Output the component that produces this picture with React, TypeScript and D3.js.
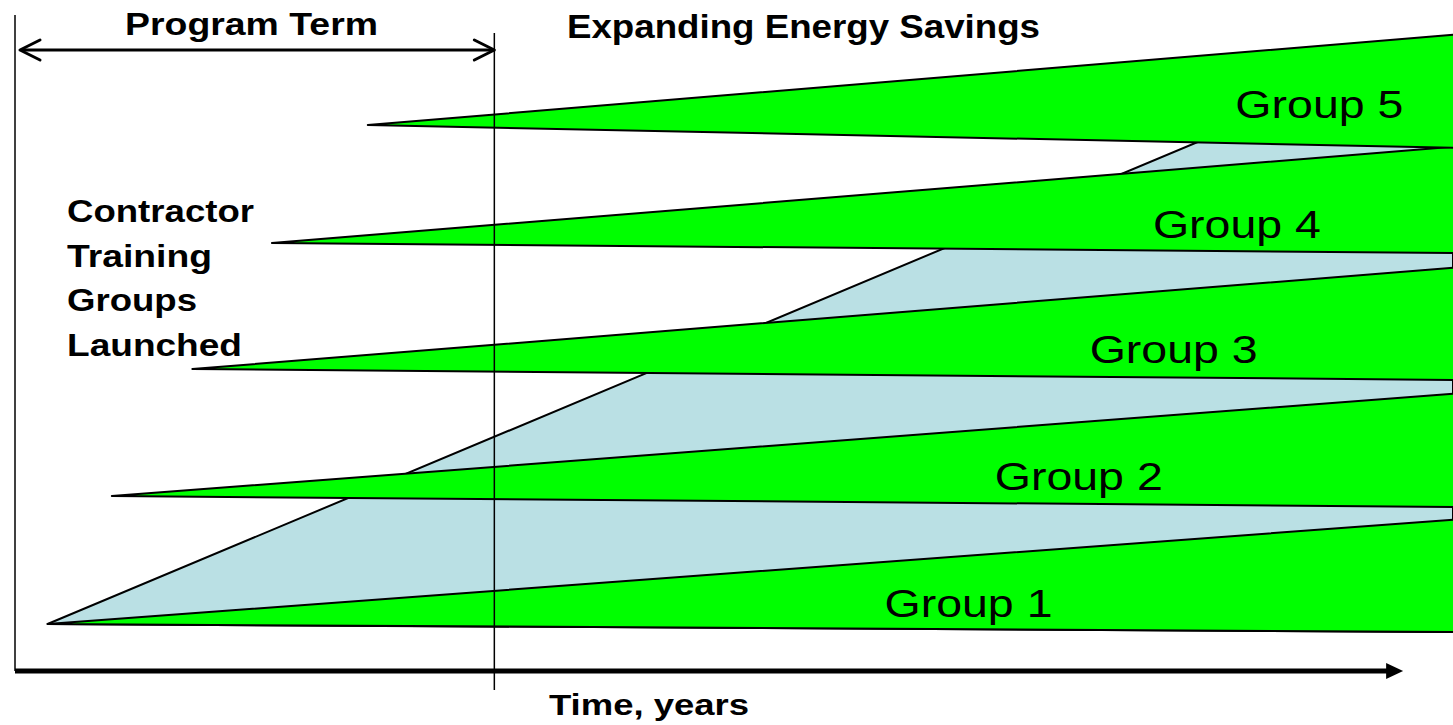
import React from "react";
import * as d3 from "d3";

// ---- data (schematic: time in years, savings level in arbitrary units) ----
const groupNames = ["Group 1", "Group 2", "Group 3", "Group 4", "Group 5"];
const launchYear = [0.34, 1.01, 1.85, 2.68, 3.68];
const launchLevel = [8, 136, 263, 389, 507];
const endUpperLevel = [112, 238, 364, 485, 597];
const endLowerLevel = [0, 125, 252, 379, 484];
const endYear = 15;
const programTermYears = 5;
const axisEndYear = 14.48;
// cumulative savings wedge
const totalStart = { year: 0.34, level: 8 };
const totalEndUpper = 597;
const totalEndLower = 0;

// label layout (year of left edge, level of baseline)
const labelYear = [9.07, 10.22, 11.21, 11.87, 12.73];
const labelLevel = [15, 142, 269, 394, 514];

const contractorLines = ["Contractor", "Training", "Groups", "Launched"];
const contractorWidths = [187, 145, 130, 175];

const W = 1453;
const H = 725;
const FONT = "'Liberation Sans', Arial, Helvetica, sans-serif";

export default function App() {
  const x = d3.scaleLinear().domain([0, endYear]).range([15, 1453]);
  const y = d3.scaleLinear().domain([0, 600]).range([632, 32]);

  const line = d3
    .line<[number, number]>()
    .x((d) => x(d[0]))
    .y((d) => y(d[1]));

  const totalPath =
    line([
      [totalStart.year, totalStart.level],
      [endYear, totalEndUpper],
      [endYear, totalEndLower],
    ]) + "Z";

  const groupPaths = groupNames.map(
    (_, i) =>
      line([
        [launchYear[i], launchLevel[i]],
        [endYear + 0.1, endUpperLevel[i] + 1],
        [endYear + 0.1, endLowerLevel[i]],
      ]) + "Z"
  );

  const x0 = x(0);
  const xTerm = x(programTermYears);
  const axisY = 671;
  const xAxisEnd = x(axisEndYear);

  return (
    <svg
      width={W}
      height={H}
      style={{ position: "absolute", left: 0, top: 0, background: "#fff" }}
      fontFamily={FONT}
    >
      {/* cumulative savings wedge */}
      <path d={totalPath} fill="#bae0e4" stroke="#000" strokeWidth={2} strokeLinejoin="round" />

      {/* group wedges */}
      {groupPaths.map((d, i) => (
        <path key={i} d={d} fill="#00ff00" stroke="#000" strokeWidth={2} strokeLinejoin="round" />
      ))}

      {/* vertical reference lines */}
      <line x1={x0} x2={x0} y1={15} y2={axisY} stroke="#000" strokeWidth={1.5} />
      <line x1={xTerm} x2={xTerm} y1={33} y2={690} stroke="#000" strokeWidth={1.5} />

      {/* time axis */}
      <line x1={x0} x2={xAxisEnd - 15} y1={axisY} y2={axisY} stroke="#000" strokeWidth={5} />
      <path
        d={`M${xAxisEnd - 17},${axisY - 8}L${xAxisEnd},${axisY}L${xAxisEnd - 17},${axisY + 8}Z`}
        fill="#000"
      />

      {/* program term arrow */}
      <line x1={x0 + 6} x2={xTerm - 1} y1={50} y2={50} stroke="#000" strokeWidth={3} />
      <polyline
        points={`${x0 + 25},40 ${x0 + 5},50 ${x0 + 25},60`}
        fill="none"
        stroke="#000"
        strokeWidth={3}
        strokeLinejoin="round"
        strokeLinecap="round"
      />
      <polyline
        points={`${xTerm - 20},40 ${xTerm},50 ${xTerm - 20},60`}
        fill="none"
        stroke="#000"
        strokeWidth={3}
        strokeLinejoin="round"
        strokeLinecap="round"
      />

      {/* titles */}
      <text x={125} y={35} fontSize={32} fontWeight="bold" textLength={253} lengthAdjust="spacingAndGlyphs">
        Program Term
      </text>
      <text x={567} y={38} fontSize={34} fontWeight="bold" textLength={473} lengthAdjust="spacingAndGlyphs">
        Expanding Energy Savings
      </text>
      <text x={549} y={715} fontSize={30} fontWeight="bold" textLength={200} lengthAdjust="spacingAndGlyphs">
        Time, years
      </text>

      {contractorLines.map((t, i) => (
        <text
          key={t}
          x={67}
          y={222 + i * 44.5}
          fontSize={31}
          fontWeight="bold"
          textLength={contractorWidths[i]}
          lengthAdjust="spacingAndGlyphs"
        >
          {t}
        </text>
      ))}

      {/* group labels */}
      {groupNames.map((g, i) => (
        <text
          key={g}
          x={x(labelYear[i])}
          y={y(labelLevel[i])}
          fontSize={39}
          textLength={168}
          lengthAdjust="spacingAndGlyphs"
        >
          {g}
        </text>
      ))}
    </svg>
  );
}
